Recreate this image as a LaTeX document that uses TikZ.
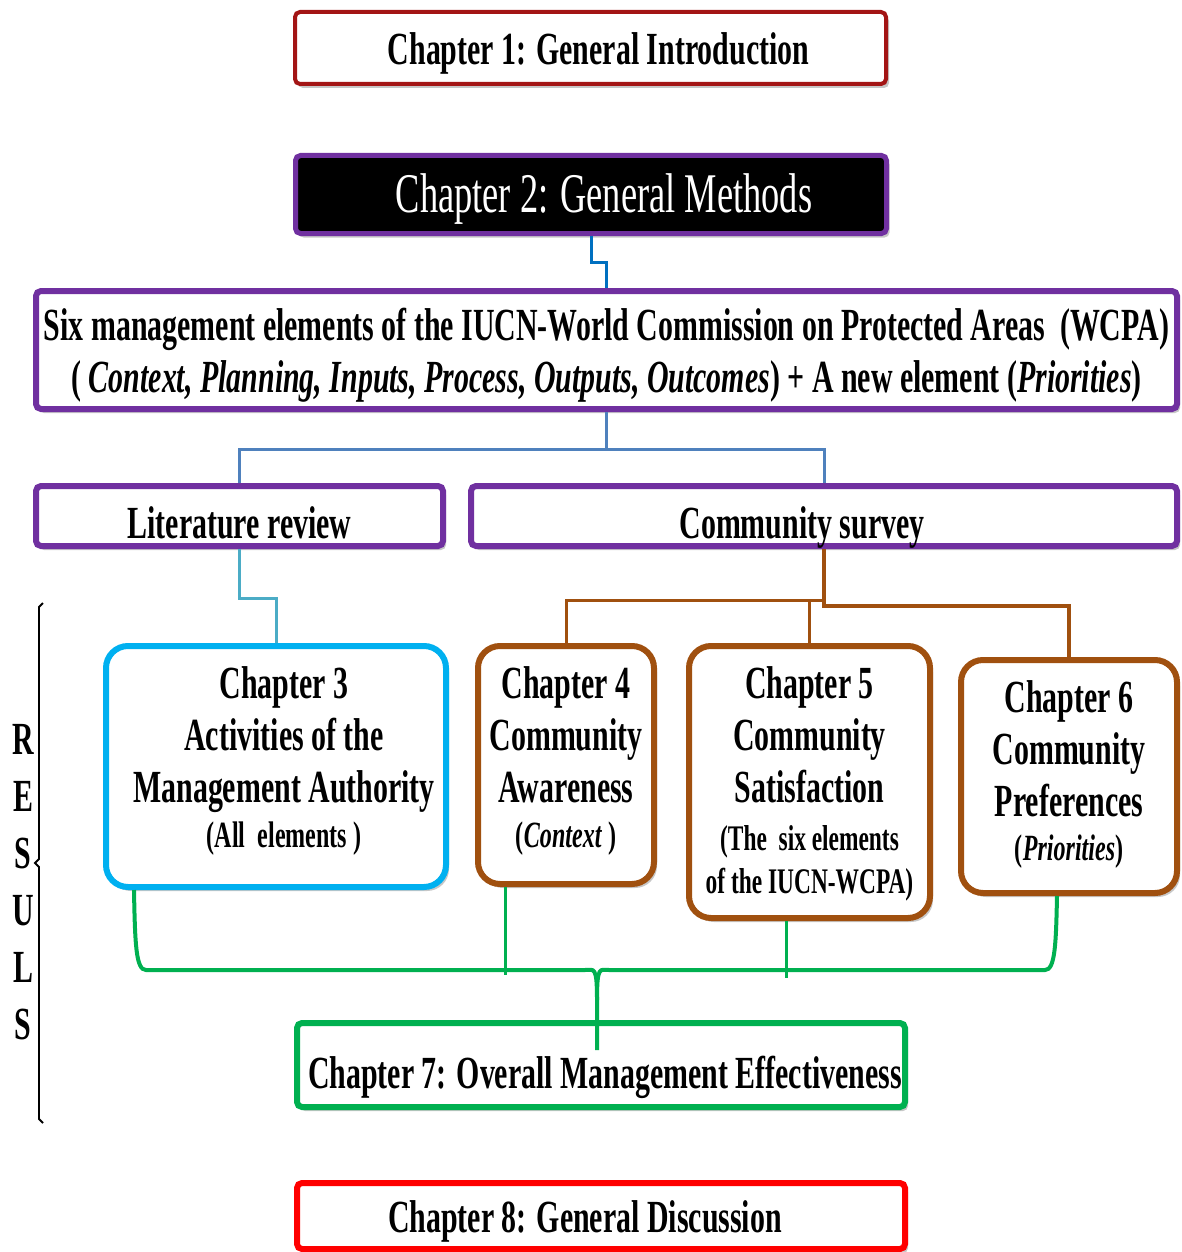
\documentclass[tikz,border=0pt]{standalone}
\usepackage{fontspec}
\setmainfont{Liberation Serif}[FakeStretch=0.65]
\usetikzlibrary{calc,shadows}
\definecolor{chred}{HTML}{A31515}
\definecolor{mpurple}{HTML}{7030A0}
\definecolor{linkblue}{HTML}{0070C0}
\definecolor{steel}{HTML}{4F81BD}
\definecolor{aqua}{HTML}{4BACC6}
\definecolor{skyb}{HTML}{00B0F0}
\definecolor{rust}{HTML}{A0500F}
\definecolor{leaf}{HTML}{00B050}
\definecolor{alarm}{HTML}{FF0000}

\begin{document}
\begin{tikzpicture}[x=1pt,y=-1pt,
  box/.style={draw, fill=white, rounded corners=5pt, inner sep=0pt, align=center,
    font=\bfseries\fontsize{46}{52}\selectfont,
    drop shadow={shadow xshift=3pt, shadow yshift=-4pt, opacity=0.22, fill=black}},
  chbox/.style={box, rounded corners=22pt, line width=6pt, draw=rust},
  wire/.style={line width=3pt},
  gl/.style={draw=leaf, line width=3pt},
]
\useasboundingbox (0,0) rectangle (1182,1252);

% ---- top chapters ----
\node[box, draw=chred, line width=4pt, minimum width=591pt, minimum height=72pt,
      text height=34pt, text depth=0pt] (ch1) at (590.5,48)
  {\hspace*{16pt}Chapter 1: General Introduction};

\node[box, draw=mpurple, fill=black, text=white, line width=5pt, minimum width=591pt, minimum height=78pt,
      font=\mdseries\fontsize{56}{60}\selectfont, text height=35pt, text depth=0pt]
      (ch2) at (591,194.5) {\hspace*{26pt}Chapter 2: General Methods};

\node[box, draw=mpurple, line width=6pt, minimum width=1141pt, minimum height=118pt,
      text height=94pt, text depth=10pt] (six) at (606.5,350)
  {Six management elements of the IUCN-World Commission on Protected Areas\ \ (WCPA)\\
   (\,\textit{Context, Planning, Inputs, Process, Outputs, Outcomes}) + A new element (\textit{Priorities})};

% ---- methods ----
\node[box, draw=mpurple, line width=6pt, minimum width=407pt, minimum height=60pt,
      text height=44pt, text depth=0pt] (lit) at (239.5,516) {Literature review};
\node[box, draw=mpurple, line width=6pt, minimum width=706pt, minimum height=60pt,
      text height=44pt, text depth=0pt] (comm) at (824,516) {\hspace*{-44pt}Community survey};

% ---- results chapters ----
\node[chbox, draw=skyb, minimum width=340pt, minimum height=241pt,
      text height=169pt, text depth=8pt] (ch3) at (276,766.5)
  {\hspace*{16pt}Chapter 3\\\hspace*{16pt}Activities of the\\\hspace*{16pt}Management Authority\\[-7pt]
   {\fontsize{37}{45}\selectfont \hspace*{16pt}(All\ \ elements )}};
\node[chbox, minimum width=176pt, minimum height=238pt,
      text height=172pt, text depth=8pt] (ch4) at (566,765)
  {Chapter 4\\Community\\Awareness\\[-7pt]
   {\fontsize{37}{45}\selectfont (\textit{Context} )}};
\node[chbox, minimum width=241pt, minimum height=272pt,
      text height=230pt, text depth=8pt] (ch5) at (809.5,782)
  {Chapter 5\\Community\\Satisfaction\\[-4pt]
   {\fontsize{36}{45}\selectfont (The\ \ six elements}\\[-9pt]
   {\fontsize{36}{45}\selectfont of the IUCN-WCPA)}};
\node[chbox, minimum width=216pt, minimum height=233pt,
      text height=175pt, text depth=8pt] (ch6) at (1069,776.5)
  {Chapter 6\\Community\\Preferences\\[-8pt]
   {\fontsize{37}{45}\selectfont (\textit{Priorities})}};

% ---- synthesis and discussion ----
\node[box, draw=leaf, line width=6pt, minimum width=608pt, minimum height=84pt,
      text height=46pt, text depth=0pt] (ch7) at (601,1065)
  {\hspace*{8pt}Chapter 7: Overall Management Effectiveness};
\node[box, draw=alarm, line width=6pt, minimum width=608pt, minimum height=66pt,
      text height=32pt, text depth=0pt] (ch8) at (601,1216)
  {Chapter 8: General Discussion\hspace*{32pt}};

% ---- side label and bracket ----
\node[font=\bfseries\fontsize{46}{57}\selectfont, align=center, inner sep=0pt] (res) at (23,882)
  {R\\E\\S\\U\\L\\S};
\draw[line width=1.8pt] (43,603) -- (39,607) -- (39,859) -- (35,863) -- (39,867) -- (39,1119) -- (43,1123);

% ---- connectors ----
\draw[wire, linkblue] (ch2.south) -- ++(0,26) -| (six.north);
\draw[wire, steel] (six.south) -- ++(0,37) coordinate (sj) -| (lit.north);
\draw[wire, steel] (sj) -| (comm.north);
\draw[wire, aqua] (lit.south) -- ++(0,49) -| (ch3.north);
\draw[wire, rust] (comm.south) -- ++(0,51) coordinate (bj) -| (ch4.north);
\draw[wire, rust] (bj) -| (ch5.north);
\draw[wire, rust, line width=4pt] (comm.south) -- ++(0,57) -| (ch6.north);

% green brace gathering the results into chapter 7
\coordinate (bar) at ([xshift=-4pt,yshift=50pt]ch7.north);
\coordinate (tip) at ([xshift=-4pt,yshift=-30pt]ch7.north);
\coordinate (gL) at ([xshift=31pt]ch3.south west);
\coordinate (gR) at ([xshift=-12pt]ch6.south);
\draw[gl, line width=4pt] (gL) .. controls ($(gL|-bar)+(1,-25)$) and ($(gL|-bar)+(2,0)$) .. ($(gL|-bar)+(12,0)$)
   -- ($(bar)+(-12,0)$) .. controls ($(bar)+(-3,0)$) and ($(bar)+(0,-5)$) .. ($(bar)+(0,30)$) -- (tip);
\draw[gl, line width=4pt] (gR) .. controls ($(gR|-bar)+(-1,-25)$) and ($(gR|-bar)+(-2,0)$) .. ($(gR|-bar)+(-12,0)$)
   -- ($(bar)+(12,0)$) .. controls ($(bar)+(3,0)$) and ($(bar)+(0,-5)$) .. ($(bar)+(0,30)$);
\draw[gl] ([xshift=30pt]ch4.south west) -- ++(0,88);
\draw[gl] ([xshift=-23pt]ch5.south) -- ++(0,57);
\end{tikzpicture}
\end{document}
